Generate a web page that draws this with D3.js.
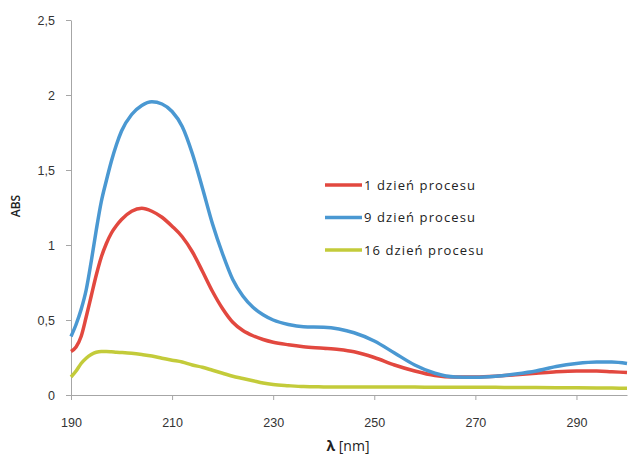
<!DOCTYPE html>
<html>
<head>
<meta charset="utf-8">
<script src="https://cdn.jsdelivr.net/npm/d3@7"></script>
<style>
  body { margin: 0; background: #fff; }
  svg { display: block; font-family: "Open Sans", "DejaVu Sans", sans-serif; }
</style>
</head>
<body>
<svg id="chart"></svg>
<script>
const width = 628
const height = 455
const margin = { top: 20, right: 1, bottom: 60, left: 71 }

// wavelength (nm) for every sample
const wavelengths = [190, 191, 192, 193, 194, 195, 196, 197, 198, 199, 200, 202, 204, 206, 208, 210, 212, 214, 216, 218,
    220, 222, 224, 226, 228, 230, 233, 236, 240, 243, 246, 250, 254, 258, 262, 266, 270, 274, 278, 282,
    286, 290, 294, 297, 300]

const day1 = [0.29, 0.32, 0.39, 0.52, 0.66, 0.80, 0.92, 1.01, 1.08, 1.13, 1.17, 1.225, 1.245, 1.225, 1.185, 1.125, 1.055, 0.955, 0.825, 0.69,
    0.575, 0.485, 0.43, 0.395, 0.37, 0.352, 0.335, 0.322, 0.312, 0.303, 0.288, 0.25, 0.20, 0.16, 0.13, 0.12, 0.12, 0.125, 0.135, 0.145,
    0.155, 0.16, 0.16, 0.155, 0.15]

const day9 = [0.39, 0.47, 0.57, 0.70, 0.89, 1.10, 1.29, 1.43, 1.56, 1.67, 1.76, 1.87, 1.93, 1.955, 1.94, 1.89, 1.79, 1.61, 1.38, 1.14,
    0.94, 0.77, 0.66, 0.585, 0.535, 0.50, 0.47, 0.455, 0.452, 0.44, 0.415, 0.36, 0.28, 0.20, 0.145, 0.12, 0.118, 0.125, 0.14, 0.16,
    0.19, 0.21, 0.22, 0.22, 0.21]

const day16 = [0.12, 0.16, 0.21, 0.245, 0.27, 0.285, 0.29, 0.29, 0.288, 0.285, 0.283, 0.278, 0.27, 0.26, 0.245, 0.232, 0.22, 0.20, 0.185, 0.165,
    0.145, 0.125, 0.11, 0.095, 0.08, 0.07, 0.062, 0.056, 0.054, 0.053, 0.053, 0.053, 0.053, 0.053, 0.052, 0.052, 0.052, 0.051, 0.05, 0.05,
    0.049, 0.048, 0.047, 0.046, 0.045]

const seriesNames = ["1 dzień procesu", "9 dzień procesu", "16 dzień procesu"]
const seriesColors = ["#e2483f", "#4a98d2", "#c3cb3a"]

const xTicks = [190, 210, 230, 250, 270, 290]
const yTicks = [0, 0.5, 1, 1.5, 2, 2.5]

const series = [day1, day9, day16].map((vals, i) => ({
    name: seriesNames[i],
    color: seriesColors[i],
    points: vals.map((v, j) => ({ x: wavelengths[j], y: v }))
}))

const svg = d3.select("#chart")
    .attr("width", width)
    .attr("height", height)

const x = d3.scaleLinear()
    .domain([190, 300])
    .range([margin.left, width - margin.right])

const y = d3.scaleLinear()
    .domain([0, 2.5])
    .range([height - margin.bottom, margin.top])

const comma = d => String(d).replace(".", ",")

// y axis
const yAxis = svg.append("g")
    .attr("transform", `translate(${margin.left},0)`)
    .call(d3.axisLeft(y).tickValues(yTicks).tickFormat(comma).tickSize(5).tickSizeOuter(0).tickPadding(11))
yAxis.select(".domain").attr("stroke", "#a6a6a6")
yAxis.selectAll(".tick line").attr("stroke", "#a6a6a6")
yAxis.selectAll("text").attr("font-size", 12.5).attr("fill", "#333")

// x axis
const xAxis = svg.append("g")
    .attr("transform", `translate(0,${height - margin.bottom})`)
    .call(d3.axisBottom(x).tickValues(xTicks).tickSize(5).tickSizeOuter(0).tickPadding(18))
xAxis.select(".domain").attr("stroke", "#a6a6a6")
xAxis.selectAll(".tick line").attr("stroke", "#a6a6a6")
xAxis.selectAll("text").attr("font-size", 12.5).attr("fill", "#333")

// curves
const line = d3.line()
    .x(d => x(d.x))
    .y(d => y(d.y))
    .curve(d3.curveMonotoneX)

svg.append("g")
    .selectAll("path")
    .data(series)
    .join("path")
    .attr("fill", "none")
    .attr("stroke", d => d.color)
    .attr("stroke-width", 3.5)
    .attr("stroke-linejoin", "round")
    .attr("d", d => line(d.points))

// legend
const legend = svg.append("g")
    .selectAll("g")
    .data(series)
    .join("g")
    .attr("transform", (d, i) => `translate(325,${185 + i * 32.5})`)

legend.append("line")
    .attr("x1", 0).attr("x2", 37)
    .attr("stroke", d => d.color)
    .attr("stroke-width", 3.5)

legend.append("text")
    .attr("x", 39)
    .attr("dy", "0.35em")
    .attr("font-size", 13)
    .attr("letter-spacing", 1.1)
    .attr("fill", "#222")
    .text(d => d.name)

// axis titles
const xTitle = svg.append("text")
    .attr("x", 348)
    .attr("y", 451)
    .attr("text-anchor", "middle")
    .attr("font-size", 14)
    .attr("fill", "#222")
xTitle.append("tspan").attr("font-weight", "bold").text("λ")
xTitle.append("tspan").text(" [nm]")

svg.append("text")
    .attr("transform", "translate(20,206) rotate(-90)")
    .attr("text-anchor", "middle")
    .attr("font-size", 12)
    .attr("font-weight", 600)
    .attr("fill", "#222")
    .text("ABS")
</script>
</body>
</html>
